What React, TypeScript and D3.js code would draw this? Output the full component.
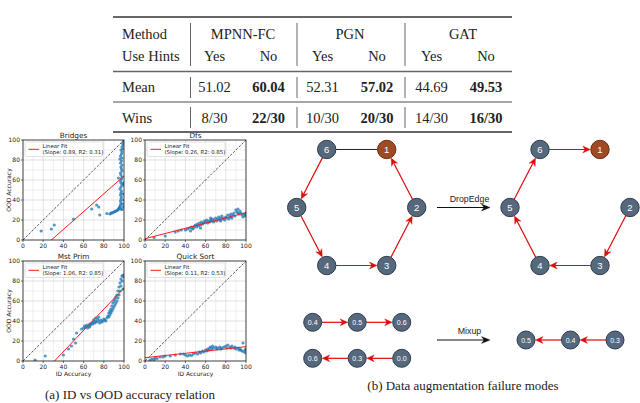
import React from 'react';
import * as d3 from 'd3';

// ---------- Table data ----------
const methods = ['MPNN-FC', 'PGN', 'GAT'];
const hintLabels = ['Yes', 'No'];
const meanYes = ['51.02', '52.31', '44.69'];
const meanNo = ['60.04', '57.02', '49.53'];
const winsYes = ['8/30', '10/30', '14/30'];
const winsNo = ['22/30', '20/30', '16/30'];

// ---------- Scatter data ----------
const panelTitles = ['Bridges', 'Dfs', 'Mst Prim', 'Quick Sort'];
const fitSlopes = [0.89, 0.26, 1.06, 0.11];
const fitIntercepts = [-25, 1.3, -33, 3.3];
const fitR2 = [0.31, 0.85, 0.85, 0.53];
const axisTicks = [0, 20, 40, 60, 80, 100];
const gridTicks = [10, 20, 30, 40, 50, 60, 70, 80, 90];

const bridgesPts: [number, number][] = [
  [18, 9], [28, 11], [31, 15], [50, 21], [68, 31], [73, 35], [75, 33], [76, 25], [83, 26.5], [86, 26],
  [87, 27], [88, 27], [89, 27.5], [90, 28], [91, 28.5], [92, 29], [93, 29.5], [94, 30], [94.5, 31], [95, 31.5],
  [95.5, 32.5], [96, 33.5], [96.5, 35], [97, 37], [96.5, 39], [97, 41], [97.5, 43], [96.5, 45], [97, 47], [97.5, 49],
  [96, 51], [97, 53], [98, 55], [97, 57], [96.5, 59], [97.5, 61], [94.5, 62], [98, 63], [97, 65], [96.5, 67],
  [98, 69], [97.5, 71], [97, 73], [98, 75], [96.5, 77], [97.5, 79], [96, 81], [98, 82], [96.5, 84], [97.5, 86],
  [98, 88], [97, 90], [98.5, 91], [98, 93], [99, 95], [98.5, 97], [99.5, 99], [99, 57], [100, 55], [99, 46],
  [99.5, 40], [98.5, 36], [99, 33], [98, 30.5], [97, 31],
];

const dfsPts: [number, number][] = [
  [9, 2.5], [20, 4], [30, 8], [33, 9], [36, 10], [40, 10], [42, 11], [44, 12], [45, 9], [46, 13],
  [47, 11], [48, 12], [49, 14], [50, 15], [51, 13], [52, 16], [53, 14], [54, 17], [55, 15], [56, 18],
  [57, 16], [58, 17], [59, 19], [60, 18], [61, 20], [62, 17], [63, 19], [64, 18], [65, 20], [66, 19],
  [67, 21], [68, 18], [69, 20], [70, 22], [71, 19], [72, 21], [73, 23], [74, 20], [75, 22], [76, 24],
  [77, 21], [78, 22], [79, 20], [80, 23], [81, 22], [82, 25], [83, 21], [84, 24], [85, 26], [86, 22],
  [87, 25], [88, 27], [89, 24], [90, 30], [91, 28], [92, 31], [93, 26], [94, 29], [95, 27], [96, 25],
  [97, 23], [98, 26], [99, 24], [100, 27], [100, 25], [55, 12], [65, 22], [75, 19], [85, 23], [92, 27],
];

const mstPts: [number, number][] = [
  [12, 1], [22, 5], [40, 6], [45, 12], [48, 15], [50, 22], [52, 18], [53, 28], [58, 32], [60, 33],
  [61, 35], [62, 34], [63, 36], [64, 33], [65, 35], [66, 37], [67, 36], [68, 38], [69, 37], [70, 39],
  [71, 38], [72, 40], [73, 39], [74, 42], [75, 40], [76, 38], [77, 41], [78, 39], [79, 40], [80, 42],
  [81, 41], [82, 40], [83, 43], [84, 45], [85, 44], [85, 48], [86, 50], [86, 46], [87, 52], [87, 48],
  [88, 55], [88, 50], [89, 58], [89, 52], [90, 60], [90, 54], [91, 62], [91, 56], [92, 64], [92, 58],
  [93, 66], [93, 60], [94, 70], [94, 63], [95, 74], [95, 66], [96, 78], [96, 70], [97, 82], [97, 75],
  [98, 85], [98, 80], [99, 86], [99, 72], [100, 84], [72, 43], [75, 44], [70, 41], [66, 34],
];

const qsPts: [number, number][] = [
  [5, 1], [7, 2], [9, 1.5], [10, 3], [12, 2.5], [15, 4], [18, 4], [20, 5], [25, 5], [30, 6],
  [35, 7], [38, 7], [40, 6], [42, 5], [44, 6], [46, 5.5], [48, 7], [50, 8], [52, 7], [54, 9],
  [55, 8], [57, 10], [58, 9], [60, 11], [61, 10], [62, 12], [63, 11], [64, 13], [65, 14], [66, 12],
  [67, 15], [68, 13], [70, 14], [71, 12], [72, 13], [74, 14], [75, 12], [76, 13], [78, 14], [80, 15],
  [81, 13], [82, 16], [84, 14], [85, 13], [86, 15], [88, 13], [89, 14], [90, 12], [92, 13], [93, 11],
  [94, 12], [95, 11], [96, 10], [97, 18], [98, 9], [99, 11], [100, 8], [100, 12],
];

const panelPoints = [bridgesPts, dfsPts, mstPts, qsPts];

// ---------- Diagram data ----------
const hexIds = ['1', '2', '3', '4', '5', '6'];
const hexHighlight = '1';
const leftEdges: [string, string, boolean][] = [
  ['6', '1', false], ['6', '5', true], ['5', '4', true], ['4', '3', true], ['3', '2', true], ['2', '1', true],
];
const rightEdges: [string, string, boolean][] = [
  ['6', '1', true], ['5', '6', true], ['4', '5', true], ['3', '4', true], ['2', '3', true],
];
const mixRow1 = ['0.4', '0.5', '0.6'];
const mixRow2 = ['0.6', '0.3', '0.0'];
const mixResult = ['0.5', '0.4', '0.3'];

// ---------- Styles ----------
const SERIF = "'Liberation Serif', 'Times New Roman', serif";
const SANS = "'DejaVu Sans', sans-serif";
const ARIAL = "'Liberation Sans', Arial, sans-serif";
const NODE_FILL = '#56687c';
const NODE_STROKE = '#2f3d4d';
const HI_FILL = '#a04a24';
const HI_STROKE = '#6a2c10';
const RED = '#dd0a0a';

function Table() {
  const left = 113, right = 512;
  const yesX = [214.5, 322.5, 431.5];
  const noX = [268.5, 377, 486];
  const groupX = [243, 350, 463];
  const sepX = [190.5, 297, 405];
  const fs = 14.5;
  const rows = [39, 61, 92, 122.5];
  return (
    <g fontFamily={SERIF} fontSize={fs} fill="#222">
      <line x1={left} x2={right} y1={17} y2={17} stroke="#333" strokeWidth={1.6} />
      <line x1={left} x2={right} y1={71.5} y2={71.5} stroke="#666" strokeWidth={1.6} />
      <line x1={left} x2={right} y1={102} y2={102} stroke="#888" strokeWidth={1.3} />
      <line x1={left} x2={right} y1={132} y2={132} stroke="#333" strokeWidth={1.6} />
      {sepX.map((x, i) => (
        <g key={i} stroke="#666" strokeWidth={1}>
          <line x1={x} x2={x} y1={23} y2={66} />
          <line x1={x} x2={x} y1={77} y2={98} />
          <line x1={x} x2={x} y1={107} y2={128} />
        </g>
      ))}
      <text x={122} y={rows[0]}>Method</text>
      <text x={122} y={rows[1]}>Use Hints</text>
      <text x={122} y={rows[2]}>Mean</text>
      <text x={122} y={rows[3]}>Wins</text>
      {methods.map((m, i) => (
        <g key={m}>
          <text x={groupX[i]} y={rows[0]} textAnchor="middle">{m}</text>
          <text x={yesX[i]} y={rows[1]} textAnchor="middle">{hintLabels[0]}</text>
          <text x={noX[i]} y={rows[1]} textAnchor="middle">{hintLabels[1]}</text>
          <text x={yesX[i]} y={rows[2]} textAnchor="middle">{meanYes[i]}</text>
          <text x={noX[i]} y={rows[2]} textAnchor="middle" fontWeight="bold">{meanNo[i]}</text>
          <text x={yesX[i]} y={rows[3]} textAnchor="middle">{winsYes[i]}</text>
          <text x={noX[i]} y={rows[3]} textAnchor="middle" fontWeight="bold">{winsNo[i]}</text>
        </g>
      ))}
    </g>
  );
}

function Panel({ idx, x0, y0, showY, showXLabel }: { idx: number; x0: number; y0: number; showY: boolean; showXLabel: boolean }) {
  const w = 101, h = 100;
  const x = d3.scaleLinear().domain([0, 100]).range([x0, x0 + w]);
  const y = d3.scaleLinear().domain([0, 100]).range([y0 + h, y0]);
  const clipId = `clip${idx}`;
  const fit = d3.line<number>().x((d) => x(d)).y((d) => y(fitSlopes[idx] * d + fitIntercepts[idx]));
  const diag = d3.line<number>().x((d) => x(d)).y((d) => y(d));
  return (
    <g>
      <defs>
        <clipPath id={clipId}>
          <rect x={x0} y={y0} width={w} height={h} />
        </clipPath>
      </defs>
      <rect x={x0} y={y0} width={w} height={h} fill="#fff" />
      {gridTicks.map((t) => (
        <g key={t} stroke={t % 20 === 0 ? '#cfcfcf' : '#e3e3e3'} strokeWidth={0.6}>
          <line x1={x(t)} x2={x(t)} y1={y0} y2={y0 + h} />
          <line x1={x0} x2={x0 + w} y1={y(t)} y2={y(t)} />
        </g>
      ))}
      <g clipPath={`url(#${clipId})`}>
        <path d={diag([0, 100]) || ''} stroke="#111" strokeWidth={0.7} strokeDasharray="2.5,1.5" fill="none" />
        {panelPoints[idx].map((p, i) => (
          <circle key={i} cx={x(p[0])} cy={y(p[1])} r={1.6} fill="#1f77b4" fillOpacity={0.75} />
        ))}
        <path d={fit([0, 100]) || ''} stroke="#ff1a1a" strokeWidth={1} fill="none" />
      </g>
      <rect x={x0} y={y0} width={w} height={h} fill="none" stroke="#111" strokeWidth={0.8} />
      {axisTicks.map((t) => (
        <g key={t}>
          <line x1={x(t)} x2={x(t)} y1={y0 + h} y2={y0 + h + 2} stroke="#111" strokeWidth={0.6} />
          <line x1={x0 - 2} x2={x0} y1={y(t)} y2={y(t)} stroke="#111" strokeWidth={0.6} />
          <text x={x(t)} y={y0 + h + 8.2} fontSize={6} fontFamily={SANS} textAnchor="middle" fill="#222">{t}</text>
          <text x={x0 - 3} y={y(t) + 2.1} fontSize={6} fontFamily={SANS} textAnchor="end" fill="#222">{t}</text>
        </g>
      ))}
      <text x={x0 + w / 2} y={y0 - 2} fontSize={7.3} fontFamily={SANS} textAnchor="middle" fill="#222">{panelTitles[idx]}</text>
      {showY && (
        <text transform={`translate(${x0 - 12},${y0 + h / 2}) rotate(-90)`} fontSize={6} fontFamily={SANS} textAnchor="middle" fill="#222">OOD Accuracy</text>
      )}
      {showXLabel && (
        <text x={x0 + w / 2} y={y0 + h + 14.5} fontSize={6} fontFamily={SANS} textAnchor="middle" fill="#222">ID Accuracy</text>
      )}
      <rect x={x0 + 2} y={y0 + 2} width={78} height={14.5} rx={1.5} fill="#fff" fillOpacity={0.85} stroke="#cfcfcf" strokeWidth={0.6} />
      <line x1={x0 + 5.5} x2={x0 + 16} y1={y0 + 9.3} y2={y0 + 9.3} stroke="#ff1a1a" strokeWidth={1} />
      <text x={x0 + 19.5} y={y0 + 8} fontSize={5.4} fontFamily={SANS} fill="#222">Linear Fit</text>
      <text x={x0 + 19.5} y={y0 + 14.2} fontSize={5.4} fontFamily={SANS} fill="#222">
        {`(Slope: ${fitSlopes[idx].toFixed(2)}, R2: ${fitR2[idx].toFixed(2)})`}
      </text>
    </g>
  );
}

type Pt = { x: number; y: number };

function arrowHead(tip: Pt, ux: number, uy: number, len: number, half: number, color: string, key?: string) {
  const px = -uy, py = ux;
  const bx = tip.x - ux * len, by = tip.y - uy * len;
  const nx = tip.x - ux * len * 0.7, ny = tip.y - uy * len * 0.7;
  const pts = [
    [tip.x, tip.y],
    [bx + px * half, by + py * half],
    [nx, ny],
    [bx - px * half, by - py * half],
  ];
  return <polygon key={key} points={pts.map((p) => p.join(',')).join(' ')} fill={color} stroke={color} strokeWidth={0.4} />;
}

function Edge({ s, t, r, arrow, k }: { s: Pt; t: Pt; r: number; arrow: boolean; k: string }) {
  const dx = t.x - s.x, dy = t.y - s.y;
  const L = Math.hypot(dx, dy);
  const ux = dx / L, uy = dy / L;
  const a = { x: s.x + ux * r, y: s.y + uy * r };
  const b = { x: t.x - ux * (r + 0.5), y: t.y - uy * (r + 0.5) };
  if (!arrow) {
    return <line x1={a.x} y1={a.y} x2={b.x} y2={b.y} stroke="#222" strokeWidth={1} />;
  }
  const endX = b.x - ux * 5, endY = b.y - uy * 5;
  return (
    <g>
      <line x1={a.x} y1={a.y} x2={endX} y2={endY} stroke={RED} strokeWidth={1.2} />
      {arrowHead(b, ux, uy, 7.5, 3.4, RED, k)}
    </g>
  );
}

function Node({ p, label, hi, r, fs }: { p: Pt; label: string; hi: boolean; r: number; fs: number }) {
  return (
    <g>
      <circle cx={p.x} cy={p.y} r={r} fill={hi ? HI_FILL : NODE_FILL} stroke={hi ? HI_STROKE : NODE_STROKE} strokeWidth={1} />
      <text x={p.x} y={p.y + fs * 0.36} textAnchor="middle" fontSize={fs} fontFamily={ARIAL} fill="#fff">{label}</text>
    </g>
  );
}

function Hexagon({ cx, cy, edges }: { cx: number; cy: number; edges: [string, string, boolean][] }) {
  const rx = 60, ry = 67;
  const R = 9.2;
  const pos: Record<string, Pt> = {};
  hexIds.forEach((id, i) => {
    const ang = ((i - 1) * Math.PI) / 3;
    pos[id] = { x: cx + rx * Math.cos(ang), y: cy + ry * Math.sin(ang) };
  });
  return (
    <g>
      {edges.map(([s, t, a]) => (
        <Edge key={s + t} k={s + t} s={pos[s]} t={pos[t]} r={R} arrow={a} />
      ))}
      {hexIds.map((id) => (
        <Node key={id} p={pos[id]} label={id} hi={id === hexHighlight} r={R} fs={9.5} />
      ))}
    </g>
  );
}

function Chain({ x0, y, labels, dir }: { x0: number; y: number; labels: string[]; dir: 'right' | 'left' }) {
  const step = 44.5;
  const R = 9;
  const ps = labels.map((_, i) => ({ x: x0 + i * step, y }));
  const edges: [number, number][] = dir === 'right' ? [[0, 1], [1, 2]] : [[2, 1], [1, 0]];
  return (
    <g>
      {edges.map(([s, t]) => (
        <Edge key={`${s}${t}`} k={`${s}${t}`} s={ps[s]} t={ps[t]} r={R} arrow={true} />
      ))}
      {labels.map((l, i) => (
        <Node key={i} p={ps[i]} label={l} hi={false} r={R} fs={7} />
      ))}
    </g>
  );
}

function BlackArrow({ x1, x2, y, label }: { x1: number; x2: number; y: number; label: string }) {
  return (
    <g>
      <line x1={x1} x2={x2 - 5} y1={y} y2={y} stroke="#111" strokeWidth={1.1} />
      {arrowHead({ x: x2, y }, 1, 0, 8.5, 3.4, '#111')}
      <text x={(x1 + x2) / 2 + 6} y={y - 6} textAnchor="middle" fontSize={8.8} fontFamily={ARIAL} fill="#222">{label}</text>
    </g>
  );
}

export default function App() {
  return (
    <svg width={640} height={403} style={{ position: 'absolute', left: 0, top: 0, background: '#fff' }}>
      <rect width={640} height={403} fill="#fff" />
      <Table />
      <Panel idx={0} x0={23} y0={140} showY={true} showXLabel={false} />
      <Panel idx={1} x0={145} y0={140} showY={false} showXLabel={false} />
      <Panel idx={2} x0={23} y0={261} showY={true} showXLabel={true} />
      <Panel idx={3} x0={145} y0={261} showY={false} showXLabel={true} />
      <text x={130} y={399} textAnchor="middle" fontSize={13} fontFamily={SERIF} fill="#222">(a) ID vs OOD accuracy relation</text>

      <Hexagon cx={356.7} cy={207.5} edges={leftEdges} />
      <BlackArrow x1={437} x2={490} y={207.5} label="DropEdge" />
      <Hexagon cx={570} cy={207.5} edges={rightEdges} />

      <Chain x0={312.7} y={322.3} labels={mixRow1} dir="right" />
      <Chain x0={312.7} y={358.3} labels={mixRow2} dir="left" />
      <BlackArrow x1={437} x2={490} y={340} label="Mixup" />
      <Chain x0={526} y={340} labels={mixResult} dir="left" />
      <text x={463} y={390} textAnchor="middle" fontSize={13} fontFamily={SERIF} fill="#222">(b) Data augmentation failure modes</text>
    </svg>
  );
}
